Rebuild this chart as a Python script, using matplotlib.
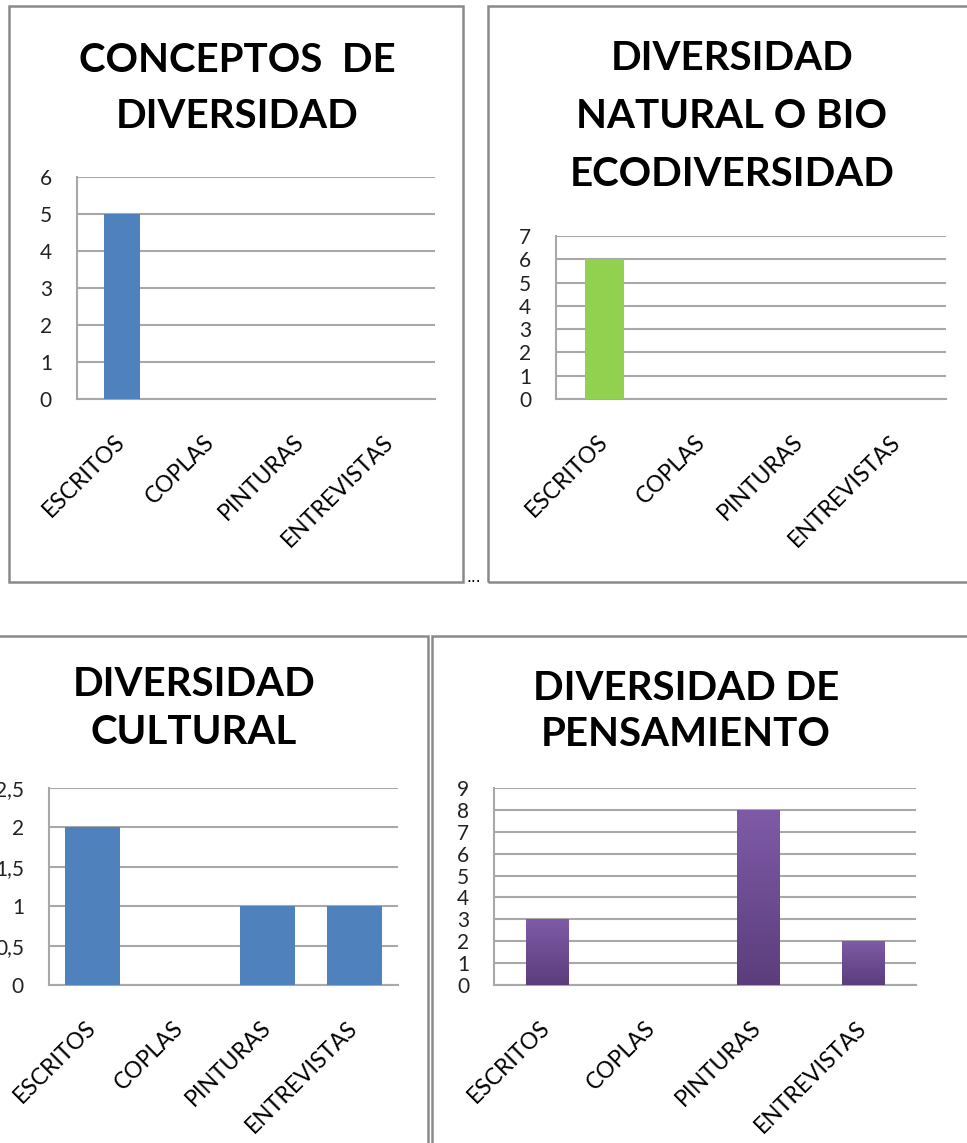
import matplotlib

matplotlib.use("Agg")
import matplotlib.pyplot as plt
import numpy as np
from matplotlib.colors import LinearSegmentedColormap
from matplotlib.patches import Rectangle
from matplotlib.ticker import FuncFormatter

W, H = 967, 1143

categories = ["ESCRITOS", "COPLAS", "PINTURAS", "ENTREVISTAS"]
conceptos = [5, 0, 0, 0]
natural_bio = [6, 0, 0, 0]
cultural = [2, 0, 1, 1]
pensamiento = [3, 0, 8, 2]

titles = [
    ["CONCEPTOS  DE", "DIVERSIDAD"],
    ["DIVERSIDAD", "NATURAL O BIO", "ECODIVERSIDAD"],
    ["DIVERSIDAD", "CULTURAL"],
    ["DIVERSIDAD DE", "PENSAMIENTO"],
]

FONT = "Lato"
GRID = "#a8a8a8"
FRAME = "#8a8a8a"
BLUE = "#4f81bd"
GREEN = "#92d050"
purple_cmap = LinearSegmentedColormap.from_list("purple", ["#5b3d7c", "#7f5ba7"])


def px_axes(fig, left, top, right, bottom):
    return fig.add_axes([left / W, 1 - bottom / H, (right - left) / W, (bottom - top) / H])


def frame(fig, left, top, right, bottom):
    fig.add_artist(Rectangle((left / W, 1 - bottom / H), (right - left) / W,
                             (bottom - top) / H, transform=fig.transFigure,
                             fill=False, edgecolor=FRAME, linewidth=1.8))


def title(fig, lines, x, ys):
    for line, y in zip(lines, ys):
        fig.text(x / W, 1 - y / H, line, ha="center", va="center", fontsize=29,
                 fontweight="bold", family=FONT, color="black")


def bar_panel(ax, values, ymax, step, color, width, comma=False, gradient=False):
    x = np.arange(len(categories))
    bars = ax.bar(x, values, width=width, color=color, zorder=3, linewidth=0)
    if gradient:
        ramp = np.linspace(1, 0, 256).reshape(-1, 1)
        for patch in bars:
            if patch.get_height() <= 0:
                continue
            x0, y0 = patch.get_x(), patch.get_y()
            im = ax.imshow(ramp, cmap=purple_cmap, aspect="auto", zorder=4,
                           extent=(x0, x0 + patch.get_width(), y0, y0 + patch.get_height()))
            im.set_clip_path(patch)
    ax.set_xlim(-0.5, len(categories) - 0.5)
    ax.set_ylim(0, ymax)
    ax.set_yticks(np.arange(0, ymax + step / 2, step))
    if comma:
        ax.yaxis.set_major_formatter(FuncFormatter(lambda v, _: f"{v:g}".replace(".", ",")))
    ax.grid(axis="y", color=GRID, linewidth=1.5, zorder=0)
    ax.set_axisbelow(True)
    for side in ("top", "right"):
        ax.spines[side].set_visible(False)
    for side in ("left", "bottom"):
        ax.spines[side].set_color(GRID)
        ax.spines[side].set_linewidth(1.5)
    ax.set_xticks(x)
    ax.set_xticklabels(categories, rotation=45, ha="right", va="center",
                       rotation_mode="anchor", family=FONT, fontsize=16.5, color="black")
    ax.tick_params(axis="x", length=0, pad=28.5)
    ax.tick_params(axis="y", length=0, pad=18, labelsize=15, labelcolor="#222222")
    for lab in ax.get_yticklabels():
        lab.set_family(FONT)


fig = plt.figure(figsize=(W / 100, H / 100), dpi=100)

# panel frames
frame(fig, 9, 6, 463, 582)
frame(fig, 488, 6, 1000, 582)
frame(fig, -10, 636, 428, 1160)
frame(fig, 432, 636, 1000, 1160)
fig.text(474 / W, 1 - 578 / H, "...", ha="center", va="center", fontsize=11, color="black")

title(fig, titles[0], 237, [60, 116])
ax1 = px_axes(fig, 77, 177, 435, 399)
bar_panel(ax1, conceptos, 6, 1, BLUE, 0.4)

title(fig, titles[1], 732, [59, 116, 175])
ax2 = px_axes(fig, 556, 236, 946, 399)
bar_panel(ax2, natural_bio, 7, 1, GREEN, 0.4)

title(fig, titles[2], 194, [684, 733])
ax3 = px_axes(fig, 49, 788, 398, 985)
bar_panel(ax3, cultural, 2.5, 0.5, BLUE, 0.63, comma=True)

title(fig, titles[3], 686, [689, 734])
ax4 = px_axes(fig, 494, 788, 916, 985)
bar_panel(ax4, pensamiento, 9, 1, "#6e4e94", 0.4, gradient=True)

fig.savefig("out.png", dpi=100)
